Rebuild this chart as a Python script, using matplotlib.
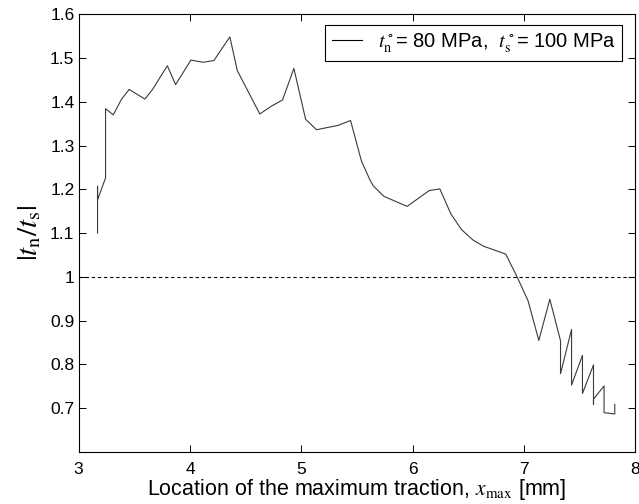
import matplotlib
matplotlib.use("Agg")
import matplotlib.pyplot as plt

plt.rcParams["font.family"] = ["Liberation Sans", "DejaVu Sans"]
plt.rcParams["mathtext.fontset"] = "stix"

# Traction ratio versus location of the maximum traction
x_max = [3.170, 3.170, 3.170, 3.242, 3.242, 3.311, 3.386, 3.454, 3.595, 3.664,
         3.730, 3.797, 3.871, 4.008, 4.119, 4.215, 4.358, 4.425, 4.627, 4.732,
         4.831, 4.933, 5.038, 5.136, 5.330, 5.442, 5.540, 5.615, 5.645, 5.741,
         5.950, 6.147, 6.243, 6.342, 6.438, 6.542, 6.637, 6.835, 6.941, 7.036,
         7.132, 7.231, 7.327, 7.327, 7.426, 7.426, 7.524, 7.524, 7.623, 7.623,
         7.623, 7.718, 7.718, 7.814, 7.814]
ratio = [1.100, 1.207, 1.176, 1.226, 1.384, 1.370, 1.406, 1.428, 1.406, 1.428,
         1.455, 1.482, 1.439, 1.495, 1.490, 1.494, 1.548, 1.471, 1.372, 1.390,
         1.404, 1.476, 1.360, 1.336, 1.346, 1.357, 1.264, 1.222, 1.208, 1.184,
         1.161, 1.197, 1.201, 1.144, 1.108, 1.084, 1.070, 1.052, 0.998, 0.945,
         0.855, 0.949, 0.854, 0.779, 0.880, 0.753, 0.821, 0.734, 0.799, 0.709,
         0.721, 0.751, 0.690, 0.687, 0.709]

x_ticks = [3, 4, 5, 6, 7, 8]
y_ticks = [0.7, 0.8, 0.9, 1, 1.1, 1.2, 1.3, 1.4, 1.5, 1.6]
y_tick_labels = ["0.7", "0.8", "0.9", "1", "1.1", "1.2", "1.3", "1.4", "1.5", "1.6"]
legend_label = r"$t_\mathrm{n}^\circ$= 80 MPa,  $t_\mathrm{s}^\circ$= 100 MPa"

fig = plt.figure(figsize=(6.39, 5.04), dpi=100)
ax = fig.add_axes([0.123, 0.103, 0.8715, 0.869])

ax.plot(x_max, ratio, color="#3a3a3a", linewidth=0.8, label=legend_label)
ax.axhline(1.0, color="black", linestyle=(0, (3, 2.5)), linewidth=0.8)

ax.set_xlim(3, 8)
ax.set_ylim(0.6, 1.6)
ax.set_xticks(x_ticks)
ax.set_xticklabels([str(t) for t in x_ticks])
ax.set_yticks(y_ticks)
ax.set_yticklabels(y_tick_labels)

ax.tick_params(axis="both", which="both", direction="in", length=5, width=0.7,
               top=True, right=True, labelsize=12.5, colors="black")
ax.tick_params(axis="y", pad=3)
ax.tick_params(axis="x", pad=7)
for s in ax.spines.values():
    s.set_linewidth(0.8)
    s.set_color("black")

ax.set_xlabel(r"Location of the maximum traction, $x_\mathrm{max}$ [mm]",
              fontsize=15.5, labelpad=0)
ax.set_ylabel(r"$|t_\mathrm{n}/t_\mathrm{s}|$", fontsize=21, labelpad=5)

leg = ax.legend(loc="upper right", bbox_to_anchor=(0.9758, 0.975),
                borderaxespad=0, fancybox=False, framealpha=1,
                edgecolor="black", fontsize=14.5, handlelength=1.5,
                handletextpad=0.8, borderpad=0.3)
leg.get_frame().set_linewidth(0.8)
for line in leg.get_lines():
    line.set_color("black")

fig.savefig("out.png", dpi=100)
